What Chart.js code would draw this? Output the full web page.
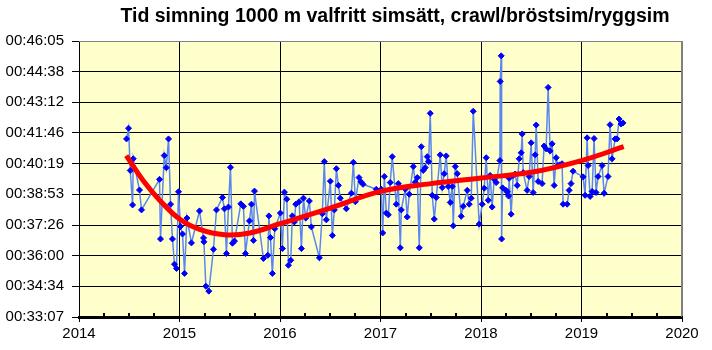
<!DOCTYPE html>
<html>
<head>
<meta charset="utf-8">
<script src="https://cdn.jsdelivr.net/npm/chart.js@4/dist/chart.umd.min.js"></script>
<style>
  body { margin: 0; background: #fff; }
  #wrap { width: 712px; height: 350px; }
</style>
</head>
<body>
<div id="wrap"><canvas id="graf" width="712" height="350"></canvas></div>
<script>
const TITEL = "Tid simning 1000 m valfritt simsätt, crawl/bröstsim/ryggsim";

// datum som decimalår
const datum = [
  2014.473, 2014.493, 2014.510, 2014.533, 2014.540, 2014.602, 2014.622, 2014.801, 2014.811, 2014.848,
  2014.868, 2014.891, 2014.911, 2014.930, 2014.950, 2014.970, 2014.990, 2015.010, 2015.030, 2015.050,
  2015.074, 2015.119, 2015.199, 2015.239, 2015.243, 2015.262, 2015.292, 2015.338, 2015.368, 2015.427,
  2015.447, 2015.467, 2015.487, 2015.507, 2015.527, 2015.547, 2015.610, 2015.636, 2015.656, 2015.696,
  2015.716, 2015.736, 2015.746, 2015.835, 2015.879, 2015.889, 2015.905, 2015.924, 2015.948, 2016.004,
  2016.024, 2016.044, 2016.068, 2016.084, 2016.107, 2016.123, 2016.143, 2016.157, 2016.190, 2016.213,
  2016.233, 2016.256, 2016.292, 2016.312, 2016.392, 2016.421, 2016.441, 2016.461, 2016.501, 2016.521,
  2016.541, 2016.561, 2016.581, 2016.600, 2016.660, 2016.710, 2016.730, 2016.750, 2016.786, 2016.806,
  2016.826, 2016.958, 2017.008, 2017.022, 2017.038, 2017.058, 2017.078, 2017.097, 2017.117, 2017.157,
  2017.177, 2017.197, 2017.207, 2017.246, 2017.266, 2017.286, 2017.326, 2017.346, 2017.366, 2017.386,
  2017.406, 2017.425, 2017.445, 2017.465, 2017.479, 2017.495, 2017.515, 2017.535, 2017.555, 2017.594,
  2017.614, 2017.634, 2017.654, 2017.674, 2017.694, 2017.714, 2017.724, 2017.744, 2017.764, 2017.803,
  2017.823, 2017.863, 2017.883, 2017.903, 2017.923, 2017.982, 2018.012, 2018.032, 2018.052, 2018.072,
  2018.091, 2018.111, 2018.131, 2018.151, 2018.188, 2018.191, 2018.201, 2018.205, 2018.215, 2018.248,
  2018.261, 2018.274, 2018.280, 2018.300, 2018.320, 2018.340, 2018.360, 2018.380, 2018.400, 2018.410,
  2018.420, 2018.459, 2018.479, 2018.499, 2018.519, 2018.539, 2018.549, 2018.569, 2018.608, 2018.628,
  2018.648, 2018.668, 2018.688, 2018.708, 2018.728, 2018.748, 2018.767, 2018.787, 2018.807, 2018.817,
  2018.857, 2018.877, 2018.896, 2018.916, 2019.016, 2019.036, 2019.056, 2019.066, 2019.086, 2019.106,
  2019.125, 2019.145, 2019.165, 2019.205, 2019.225, 2019.264, 2019.284, 2019.304, 2019.334, 2019.354,
  2019.374, 2019.394, 2019.413
];

// tider (mm:ss)
const tider = [
  "41:29", "41:59", "40:00", "38:23", "40:33", "39:05", "38:09", "39:35", "36:47", "40:42",
  "40:08", "41:29", "38:25", "36:47", "35:36", "35:24", "39:00", "37:22", "37:01", "35:10",
  "37:46", "36:36", "38:06", "36:50", "36:39", "34:34", "34:20", "36:18", "38:09", "38:44",
  "38:12", "36:06", "38:17", "40:09", "36:35", "36:41", "38:26", "38:19", "36:06", "37:38",
  "38:25", "36:43", "39:02", "35:52", "36:01", "37:52", "36:51", "35:10", "37:16", "38:00",
  "36:20", "38:59", "38:39", "35:33", "35:47", "37:52", "37:35", "38:25", "38:32", "36:20",
  "38:42", "37:46", "38:34", "37:21", "35:54", "37:58", "40:25", "37:41", "39:30", "36:57",
  "38:09", "40:05", "39:18", "38:42", "38:12", "38:56", "40:23", "38:32", "39:40", "39:28",
  "39:21", "39:07", "39:07", "37:04", "39:43", "38:00", "37:55", "39:26", "40:39", "38:25",
  "39:23", "36:22", "38:09", "39:07", "37:49", "38:53", "40:11", "39:27", "39:40", "36:22",
  "41:07", "40:00", "40:08", "40:39", "40:25", "42:41", "38:50", "37:43", "38:44", "40:44",
  "39:12", "39:51", "40:41", "39:15", "38:30", "39:15", "37:24", "40:11", "39:51", "37:51",
  "38:19", "39:04", "38:25", "38:42", "42:47", "37:29", "38:25", "39:10", "40:36", "38:36",
  "39:46", "38:17", "39:35", "39:26", "40:28", "44:11", "45:23", "36:47", "39:11", "39:04",
  "39:00", "38:48", "39:38", "37:57", "39:46", "39:50", "39:18", "40:33", "40:50", "41:43",
  "39:54", "39:04", "39:43", "41:18", "38:58", "40:44", "42:08", "39:29", "39:23", "41:09",
  "41:01", "43:54", "40:55", "41:15", "39:18", "40:36", "40:14", "40:16", "40:19", "38:25",
  "38:25", "39:04", "39:23", "39:58", "39:42", "38:50", "41:32", "40:14", "38:47", "39:01",
  "41:30", "38:58", "39:43", "40:14", "38:56", "39:43", "42:09", "40:33", "41:29", "41:29",
  "42:25", "42:11", "42:14"
];

// trendlinjen, avläst i bilden
const trendDatum = [2014.47, 2014.64, 2014.8, 2015.0, 2015.2, 2015.45, 2015.7, 2016.0, 2016.5, 2017.0, 2017.5, 2018.0, 2018.5, 2019.0, 2019.42];
const trendTider = ["40:42", "39:31", "38:37", "37:43", "37:14", "36:59", "37:04", "37:30", "38:14", "39:01", "39:23", "39:39", "39:55", "40:28", "41:07"];

// y-axelns steg: 1/1000 dygn = 86,4 s
const yTicks = [23, 24, 25, 26, 27, 28, 29, 30, 31, 32];
const xTicks = [2014, 2015, 2016, 2017, 2018, 2019, 2020];

function tillSek(t) {
  const [m, s] = t.split(":");
  return parseInt(m) * 60 + parseInt(s);
}

function tidText(sek) {
  const tot = Math.round(sek);
  const h = Math.floor(tot / 3600);
  const m = Math.floor((tot % 3600) / 60);
  const s = tot % 60;
  const p = n => String(n).padStart(2, "0");
  return `${p(h)}:${p(m)}:${p(s)}`;
}

const punkter = datum.map((d, i) => ({ x: d, y: tillSek(tider[i]) }));
const trend = trendDatum.map((d, i) => ({ x: d, y: tillSek(trendTider[i]) }));

const FONT = "'Liberation Sans', Arial, sans-serif";

// bakgrund, ram, titel och små streck på x-axeln
const ritaExtra = {
  id: "ritaExtra",
  beforeDraw(chart) {
    const { ctx, chartArea: a } = chart;
    ctx.save();
    ctx.fillStyle = "#FFFFCC";
    ctx.fillRect(a.left, a.top, a.right - a.left, a.bottom - a.top);
    ctx.restore();
  },
  afterDraw(chart) {
    const { ctx, chartArea: a, scales } = chart;
    ctx.save();
    ctx.strokeStyle = "#808080";
    ctx.lineWidth = 1;
    ctx.beginPath();
    ctx.moveTo(a.left, a.top + 0.5);
    ctx.lineTo(a.right - 0.5, a.top + 0.5);
    ctx.lineTo(a.right - 0.5, a.bottom);
    ctx.stroke();

    // kvartalsstreck
    ctx.strokeStyle = "#000";
    ctx.lineWidth = 2;
    for (let ar = 2014; ar < 2020; ar++) {
      for (const q of [0.25, 0.5, 0.75]) {
        const x = Math.round(scales.x.getPixelForValue(ar + q));
        ctx.beginPath();
        ctx.moveTo(x, a.bottom);
        ctx.lineTo(x, a.bottom - 4);
        ctx.stroke();
      }
    }

    ctx.fillStyle = "#000";
    ctx.font = `bold 19.5px ${FONT}`;
    ctx.textAlign = "center";
    ctx.textBaseline = "middle";
    ctx.fillText(TITEL, 395, 17);
    ctx.restore();
  }
};

new Chart(document.getElementById("graf"), {
  type: "line",
  data: {
    datasets: [
      {
        label: "Trend",
        data: trend,
        borderColor: "#FF0000",
        borderWidth: 5,
        pointRadius: 0,
        tension: 0.4,
        fill: false
      },
      {
        label: "Tid",
        data: punkter,
        borderColor: "#5B86F0",
        borderWidth: 1.5,
        pointStyle: "rectRot",
        pointRadius: 3,
        pointBackgroundColor: "#0000FF",
        pointBorderColor: "#0000FF",
        pointBorderWidth: 1,
        tension: 0,
        fill: false
      }
    ]
  },
  options: {
    responsive: false,
    animation: false,
    layout: { padding: { top: 41, right: 30, left: 0, bottom: 0 } },
    plugins: { legend: { display: false }, tooltip: { enabled: false }, title: { display: false } },
    scales: {
      x: {
        type: "linear",
        min: 2014,
        max: 2020,
        afterFit: s => { s.height = 33; },
        afterBuildTicks: s => { s.ticks = xTicks.map(v => ({ value: v })); },
        ticks: { color: "#000", font: { family: FONT, size: 15 }, padding: 3, maxRotation: 0, callback: v => String(v) },
        grid: { color: c => (c.tick && c.tick.value === 2020 ? "#808080" : "#000"), lineWidth: 1, tickLength: 5, tickColor: "#000" },
        border: { display: true, color: "#000", width: 3 }
      },
      y: {
        type: "linear",
        min: 23 * 86.4,
        max: 32 * 86.4,
        afterFit: s => { s.width = 79; },
        afterBuildTicks: s => { s.ticks = yTicks.map(k => ({ value: k * 86.4 })); },
        ticks: { color: "#000", font: { family: FONT, size: 15 }, padding: 8, callback: v => tidText(v) },
        grid: { color: c => (c.tick && c.tick.value > 31.5 * 86.4 ? "#808080" : "#000"), lineWidth: 1, tickLength: 7, tickColor: "#000" },
        border: { display: true, color: "#000", width: 1 }
      }
    }
  },
  plugins: [ritaExtra]
});
</script>
</body>
</html>
